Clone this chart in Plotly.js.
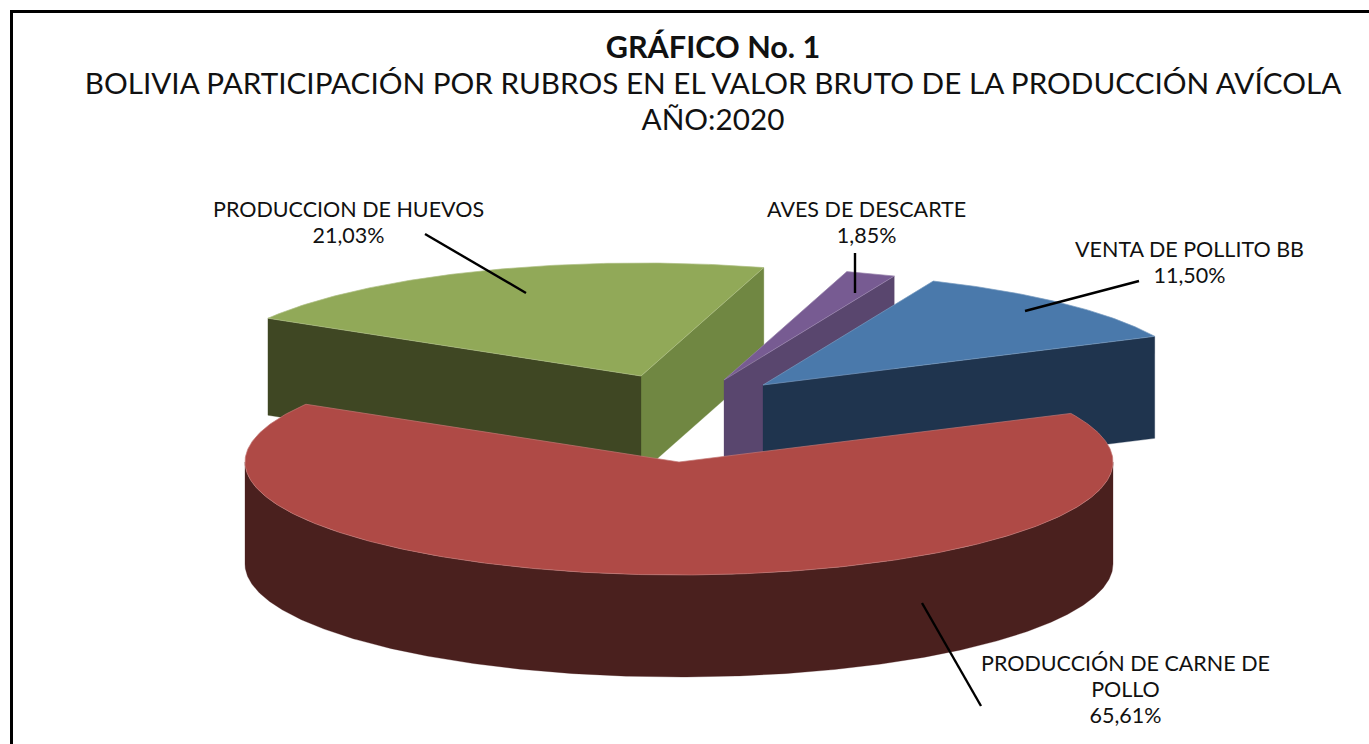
<!DOCTYPE html>
<html>
<head>
<meta charset="utf-8">
<script src="https://cdn.plot.ly/plotly-3.0.1.min.js"></script>
<style>html,body{margin:0;padding:0;background:#fff;overflow:hidden}#chart{width:1369px;height:744px}</style>
</head>
<body>
<div id="chart"></div>
<script>
// Data (in the order the slices run around the pie)
const categories = ["VENTA DE POLLITO BB", "AVES DE DESCARTE", "PRODUCCION DE HUEVOS", "PRODUCCIÓN DE CARNE DE<br>POLLO"];
const shares = [11.50, 1.85, 21.03, 65.61];
const titleLines = ["GRÁFICO No. 1", "BOLIVIA PARTICIPACIÓN POR RUBROS EN EL VALOR BRUTO DE LA PRODUCCIÓN AVÍCOLA", "AÑO:2020"];

// Colours per slice: top, near face, second face
const topColors = ["#4A79AB", "#775B92", "#91A958", "#AF4A46"];
const sideColors = ["#1F344E", "#59466E", "#3F4723", "#4A201E"];
const edgeColor = "#708742";

// Drawing geometry of the tilted, exploded pie (pixel-space axes)
const rx = 434, ry = 113, startAngle = 25.5;
const apexX = [763, 724, 641, 679];
const apexY = [385, 380, 376, 462];
const depth = [102, 102, 97, 102];

const labelX = [1189, 866, 348, 1125];
const labelY = [262, 222, 222, 689];
const leaders = [[1139, 281, 1025, 311], [855, 253, 855, 293], [425, 234, 526, 293], [922, 603, 981, 706]];

// Angles of each slice from its share
const spans = [];
let cursor = startAngle;
shares.forEach(s => { const a = s / 100 * 360; spans.push([cursor, cursor + a]); cursor += a; });

const rad = d => d * Math.PI / 180;
const rim = (i, t) => [apexX[i] + rx * Math.cos(rad(t)), apexY[i] - ry * Math.sin(rad(t))];
function arc(i, from, to) {
  const pts = [], n = Math.max(2, Math.ceil(Math.abs(from - to) * 2));
  for (let k = 0; k <= n; k++) pts.push(rim(i, from + (to - from) * k / n));
  return pts;
}
function lighten(hex) {
  const v = [1, 3, 5].map(k => parseInt(hex.substr(k, 2), 16));
  return "rgb(" + v.map(c => Math.round(c + (255 - c) * 0.25)).join(",") + ")";
}
function poly(pts, color, line) {
  const xs = pts.map(p => p[0]).concat(pts[0][0]);
  const ys = pts.map(p => p[1]).concat(pts[0][1]);
  return {
    type: "scatter", mode: "lines", x: xs, y: ys, fill: "toself", fillcolor: color,
    line: {color: line || color, width: line ? 0.7 : 0.3}, hoverinfo: "skip", showlegend: false
  };
}
const topFace = i => poly([[apexX[i], apexY[i]]].concat(arc(i, spans[i][0], spans[i][1])), topColors[i], lighten(topColors[i]));
function wall(i, t, color) {
  const p = rim(i, t), d = depth[i];
  return poly([[apexX[i], apexY[i]], p, [p[0], p[1] + d], [apexX[i], apexY[i] + d]], color);
}
function curvedWall(i, from, to, color) {
  const upper = arc(i, from, to), d = depth[i];
  const lower = upper.slice().reverse().map(p => [p[0], p[1] + d]);
  return poly(upper.concat(lower), color);
}

const B = 0, A = 1, H = 2, R = 3;
const traces = [
  wall(H, spans[H][0], edgeColor),
  wall(H, spans[H][1], sideColors[H]),
  topFace(H),
  wall(A, spans[A][0], sideColors[A]),
  topFace(A),
  wall(B, spans[B][0], sideColors[B]),
  topFace(B),
  curvedWall(R, 180, 360, sideColors[R]),
  topFace(R)
];

const fontFamily = "Lato, 'Open Sans', sans-serif";
const sized = (t, s) => t.split("<br>").map(p => '<span style="font-size:' + s + 'px">' + p + '</span>').join("<br>");
const annotations = categories.map((c, i) => ({
  x: labelX[i], y: labelY[i], xref: "x", yref: "y", xanchor: "center", yanchor: "middle",
  text: sized(c + "<br>" + shares[i].toFixed(2).replace(".", ",") + "%", 21.5),
  showarrow: false, align: "center", font: {family: fontFamily, size: 20, color: "#111"}
}));
const shapes = leaders.map(l => ({
  type: "line", xref: "x", yref: "y", x0: l[0], y0: l[1], x1: l[2], y1: l[3],
  line: {color: "#000", width: 2.4}
}));
shapes.push({
  type: "path", xref: "x", yref: "y", path: "M11.5,744 L11.5,11.5 L1369,11.5",
  line: {color: "#000", width: 3}
});

const layout = {
  width: 1369, height: 744,
  margin: {l: 0, r: 0, t: 0, b: 0},
  paper_bgcolor: "#fff", plot_bgcolor: "#fff",
  showlegend: false,
  title: {
    text: sized("<b>" + titleLines[0] + "</b>", 30.6) + "<br>" + sized(titleLines[1] + "<br>" + titleLines[2], 29.7),
    x: 713 / 1369, xanchor: "center", y: 1 - 58 / 744, yanchor: "top",
    font: {family: fontFamily, size: 27.7, color: "#111"}
  },
  xaxis: {range: [0, 1369], visible: false, fixedrange: true},
  yaxis: {range: [744, 0], visible: false, fixedrange: true},
  annotations: annotations, shapes: shapes
};
Plotly.newPlot("chart", traces, layout, {displayModeBar: false, staticPlot: true});
</script>
</body>
</html>
